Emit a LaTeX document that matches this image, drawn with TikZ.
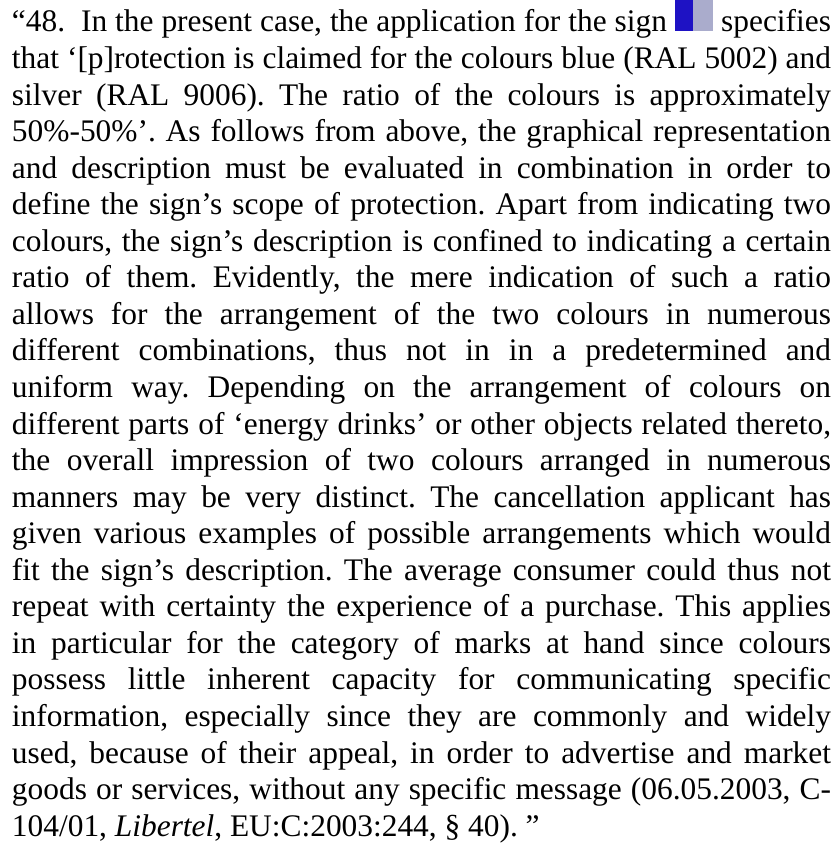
\documentclass[tikz,border=0pt]{standalone}
\usepackage{fontspec}
\setmainfont{Liberation Serif}
\frenchspacing
\definecolor{signblue}{RGB}{30,18,196}
\definecolor{signsilver}{RGB}{170,172,204}
\begin{document}
\begin{tikzpicture}[x=1pt,y=1pt,
  txt/.style={anchor=base west,inner sep=0pt,outer sep=0pt,
    font=\fontsize{31.4pt}{36.55pt}\selectfont\frenchspacing},
  jl/.style={txt},
  blk/.style={inner sep=0pt,outer sep=0pt,draw=none,anchor=north west}]
\fill[white] (0,0) rectangle (837,-848);
\useasboundingbox (0,0) rectangle (837,-848);
\def\W{819pt}
\node[jl] (l1) at (12,-32) {\makebox[655pt][s]{“48.\ \ In the present case, the application for the sign}};
\node[txt,anchor=base east] (l1b) at (831,-32) {specifies};
\node[blk,fill=signblue,minimum width=18pt,minimum height=31pt] (sb) at (675,0) {};
\node[blk,fill=signsilver,minimum width=20pt,minimum height=31pt] (ss) at (693,0) {};
\node[jl] (l2) at (12,{-32-1*36.55}) {\makebox[\W][s]{that ‘[p]rotection is claimed for the colours blue (RAL 5002) and}};
\node[jl] (l3) at (12,{-32-2*36.55}) {\makebox[\W][s]{silver (RAL 9006). The ratio of the colours is approximately}};
\node[jl] (l4) at (12,{-32-3*36.55}) {\makebox[\W][s]{50\%-50\%’. As follows from above, the graphical representation}};
\node[jl] (l5) at (12,{-32-4*36.55}) {\makebox[\W][s]{and description must be evaluated in combination in order to}};
\node[jl] (l6) at (12,{-32-5*36.55}) {\makebox[\W][s]{define the sign’s scope of protection. Apart from indicating two}};
\node[jl] (l7) at (12,{-32-6*36.55}) {\makebox[\W][s]{colours, the sign’s description is confined to indicating a certain}};
\node[jl] (l8) at (12,{-32-7*36.55}) {\makebox[\W][s]{ratio of them. Evidently, the mere indication of such a ratio}};
\node[jl] (l9) at (12,{-32-8*36.55}) {\makebox[\W][s]{allows for the arrangement of the two colours in numerous}};
\node[jl] (l10) at (12,{-32-9*36.55}) {\makebox[\W][s]{different combinations, thus not in in a predetermined and}};
\node[jl] (l11) at (12,{-32-10*36.55}) {\makebox[\W][s]{uniform way. Depending on the arrangement of colours on}};
\node[jl] (l12) at (12,{-32-11*36.55}) {\makebox[\W][s]{different parts of ‘energy drinks’ or other objects related thereto,}};
\node[jl] (l13) at (12,{-32-12*36.55}) {\makebox[\W][s]{the overall impression of two colours arranged in numerous}};
\node[jl] (l14) at (12,{-32-13*36.55}) {\makebox[\W][s]{manners may be very distinct. The cancellation applicant has}};
\node[jl] (l15) at (12,{-32-14*36.55}) {\makebox[\W][s]{given various examples of possible arrangements which would}};
\node[jl] (l16) at (12,{-32-15*36.55}) {\makebox[\W][s]{fit the sign’s description. The average consumer could thus not}};
\node[jl] (l17) at (12,{-32-16*36.55}) {\makebox[\W][s]{repeat with certainty the experience of a purchase. This applies}};
\node[jl] (l18) at (12,{-32-17*36.55}) {\makebox[\W][s]{in particular for the category of marks at hand since colours}};
\node[jl] (l19) at (12,{-32-18*36.55}) {\makebox[\W][s]{possess little inherent capacity for communicating specific}};
\node[jl] (l20) at (12,{-32-19*36.55}) {\makebox[\W][s]{information, especially since they are commonly and widely}};
\node[jl] (l21) at (12,{-32-20*36.55}) {\makebox[\W][s]{used, because of their appeal, in order to advertise and market}};
\node[jl] (l22) at (12,{-32-21*36.55}) {\makebox[\W][s]{goods or services, without any specific message (06.05.2003, C-}};
\node[jl] (l23) at (12,{-32-22*36.55}) {104/01, \textit{Libertel}, EU:C:2003:244, § 40). ”};
\end{tikzpicture}
\end{document}
